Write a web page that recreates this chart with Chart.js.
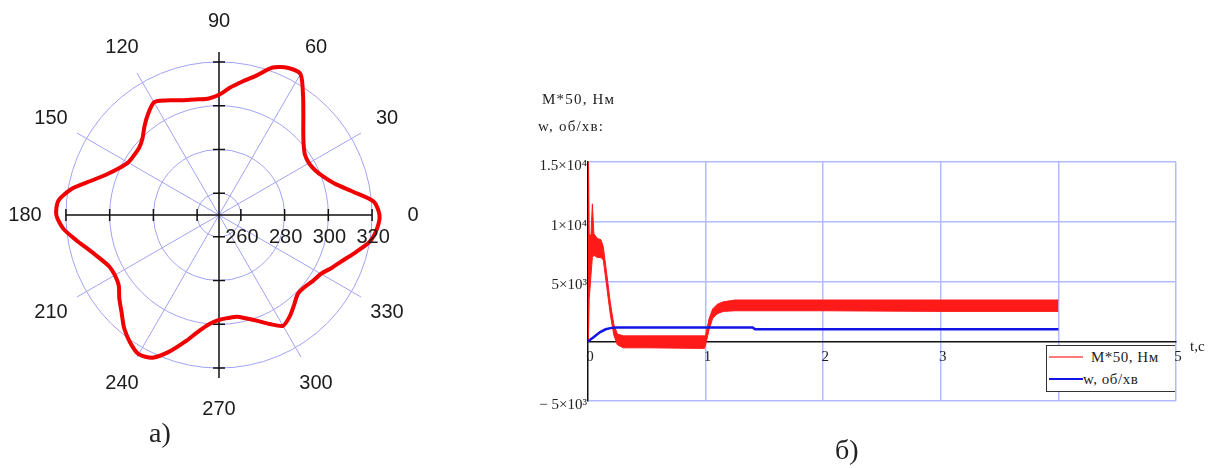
<!DOCTYPE html>
<html>
<head>
<meta charset="utf-8">
<script src="https://cdn.jsdelivr.net/npm/chart.js@4.4.1/dist/chart.umd.min.js"></script>
<style>
  body { margin: 0; background: #fff; width: 1218px; height: 468px; overflow: hidden; position: relative; font-family: "Liberation Serif", serif; }
  canvas { position: absolute; }
  .txt { position: absolute; color: #222; white-space: nowrap; line-height: 1; }
  #custom { position: absolute; left: 1046px; top: 345px; width: 128px; height: 45px; background: #fff; border-left: 1px solid #333; border-top: 1px solid #333; border-bottom: 1px solid #333; }
  #custom ul { list-style: none; margin: 0; padding: 0; }
  #custom li { display: flex; align-items: center; height: 22px; }
  #custom span { display: inline-block; width: 34px; margin: 0 0 0 2px; }
  #custom p { margin: 0; font-size: 15px; letter-spacing: 0.5px; color: #222; }
</style>
</head>
<body>
<canvas id="polar" width="440" height="430" style="left:0;top:0"></canvas>
<canvas id="time" width="698" height="380" style="left:520px;top:60px"></canvas>

<div class="txt" style="left:542px;top:92px;font-size:15px;letter-spacing:1.2px">M*50, Нм</div>
<div class="txt" style="left:538px;top:119px;font-size:15px;letter-spacing:1.2px">w, об/хв:</div>
<div class="txt" style="left:1190px;top:339px;font-size:15px">t,c</div>
<div class="txt" style="left:149px;top:419px;font-size:28px">а)</div>
<div class="txt" style="left:835px;top:436px;font-size:28px">б)</div>

<script>
// polar plot (а): radius by angle, every 5 degrees
const polarAngles = [0, 5, 10, 15, 20, 25, 30, 35, 40, 45, 50, 55, 60, 65, 70, 75, 80, 85,
  90, 95, 100, 105, 110, 115, 120, 125, 130, 135, 140, 145, 150, 155, 160, 165, 170, 175,
  180, 185, 190, 195, 200, 205, 210, 215, 220, 225, 230, 235, 240, 245, 250, 255, 260, 265,
  270, 275, 280, 285, 290, 295, 300, 305, 310, 315, 320, 325, 330, 335, 340, 345, 350, 355];
const polarRadius = [323.4, 321, 312, 305, 301, 298.5, 297.5, 298, 300.5, 304.5, 310, 317, 324.5, 324.3, 321.8, 316, 312, 308.5,
  305, 303.5, 303.7, 304.5, 305.8, 307.8, 309.5, 306.5, 303, 299.5, 297.7, 297.5, 298, 300.5, 304.5, 310.5, 318.5, 323.8,
  324.4, 321.5, 316.3, 311.5, 308, 305.5, 305, 306, 309.5, 313, 317.5, 321, 323.5, 322, 316.5, 310, 304, 300,
  298, 297.3, 297.2, 299, 301.5, 305, 308.5, 306.5, 303.5, 301, 301.2, 302.5, 303.8, 307, 310.5, 315, 320, 322.5];
const polarTicks = [260, 280, 300, 320];
const angleLabels = [0, 30, 60, 90, 120, 150, 180, 210, 240, 270, 300, 330];

// time plot (б)
const tRed = [0, 0.004, 0.01, 0.025, 0.037, 0.05, 0.08, 0.11, 0.13, 0.16, 0.19, 0.22, 0.25, 0.3, 0.5, 0.99,
  1.0, 1.03, 1.06, 1.1, 1.15, 1.25, 2, 3, 4];
const redUpper = [0, 15200, 9000, 8800, 11500, 9000, 8600, 8500, 7900, 5600, 3200, 1400, 600, 450, 450, 450,
  500, 1900, 2700, 3100, 3300, 3450, 3450, 3450, 3450];
const redLower = [0, 500, 3500, 5500, 7000, 7200, 7000, 7000, 6800, 4500, 2200, 500, -300, -550, -550, -600,
  -300, 1000, 1900, 2300, 2500, 2550, 2550, 2500, 2500];
const tBlue = [0, 0.05, 0.1, 0.15, 0.2, 0.25, 1.4, 1.42, 4];
const wBlue = [0, 350, 750, 1000, 1120, 1150, 1150, 1000, 1000];
const xTicks = [0, 1, 2, 3, 4, 5];
const yTickValues = [-5000, 0, 5000, 10000, 15000];
const yTickLabels = ["− 5×10³", "", "5×10³", "1×10⁴", "1.5×10⁴"];

const gridBlue = "#a2a2f4";
const clear = "rgba(0,0,0,0)";

// radar goes clockwise from the top, so index i sits at 90 - 5i degrees
const polarIndex = (angle) => ((90 - angle) / 5 + 72) % 72;
const radarLabels = polarAngles.map((a, i) => polarAngles[(18 - i + 72) % 72]);
const radarData = polarAngles.map((a, i) => polarRadius[(18 - i + 72) % 72]);

const polarExtras = {
  id: "polarExtras",
  beforeDatasetsDraw(chart) {
    const r = chart.scales.r;
    const ctx = chart.ctx;
    const cx = r.xCenter, cy = r.yCenter;
    const hLen = r.getDistanceFromCenterForValue(320);
    const vLen = r.getDistanceFromCenterForValue(324.5);
    ctx.save();
    ctx.strokeStyle = "#111";
    ctx.lineWidth = 1.5;
    ctx.beginPath();
    ctx.moveTo(cx - hLen, cy); ctx.lineTo(cx + hLen, cy);
    ctx.moveTo(cx, cy - vLen); ctx.lineTo(cx, cy + vLen);
    polarTicks.forEach((v) => {
      const d = r.getDistanceFromCenterForValue(v);
      ctx.moveTo(cx + d, cy - 6); ctx.lineTo(cx + d, cy + 6);
      ctx.moveTo(cx - d, cy - 6); ctx.lineTo(cx - d, cy + 6);
      ctx.moveTo(cx - 6, cy + d); ctx.lineTo(cx + 6, cy + d);
      ctx.moveTo(cx - 6, cy - d); ctx.lineTo(cx + 6, cy - d);
    });
    ctx.stroke();
    ctx.restore();
  },
  afterDraw(chart) {
    const r = chart.scales.r;
    const ctx = chart.ctx;
    ctx.save();
    ctx.fillStyle = "#1c1c1c";
    ctx.font = '20px "Liberation Sans", Arial, sans-serif';
    ctx.textAlign = "center";
    ctx.textBaseline = "middle";
    polarTicks.forEach((v) => {
      const d = r.getDistanceFromCenterForValue(v);
      ctx.fillText(String(v), r.xCenter + d + 1, r.yCenter + 22);
    });
    angleLabels.forEach((a) => {
      const p = r.getPointPosition(polarIndex(a), 194);
      ctx.fillText(String(a), p.x, p.y);
    });
    ctx.restore();
  }
};

new Chart(document.getElementById("polar"), {
  type: "radar",
  data: {
    labels: radarLabels,
    datasets: [{
      label: "r",
      data: radarData,
      borderColor: "#f00000",
      borderWidth: 4,
      pointRadius: 0,
      tension: 0.25,
      fill: false
    }]
  },
  options: {
    responsive: false,
    animation: false,
    layout: { padding: { left: 55, top: 51, right: 57, bottom: 51 } },
    plugins: { legend: { display: false }, tooltip: { enabled: false } },
    scales: {
      r: {
        min: 250,
        max: 325,
        ticks: { display: false, stepSize: 20 },
        grid: {
          circular: true,
          lineWidth: 1,
          color: (c) => polarTicks.includes(c.tick.value) ? gridBlue : clear
        },
        angleLines: {
          lineWidth: 1,
          color: (c) => {
            const a = radarLabels[c.index];
            return (a % 30 === 0 && a % 90 !== 0) ? gridBlue : clear;
          }
        },
        pointLabels: { display: false }
      }
    }
  },
  plugins: [polarExtras]
});

// time chart
const serif = '"Liberation Serif", "Times New Roman", serif';
const timeChart = new Chart(document.getElementById("time"), {
  type: "line",
  data: {
    datasets: [
      {
        label: "M*50, Нм",
        data: tRed.map((t, i) => ({ x: t, y: redUpper[i] })),
        borderColor: "#ff1a1a",
        borderWidth: 1,
        pointRadius: 0,
        fill: false,
        order: 1
      },
      {
        label: "band",
        data: tRed.map((t, i) => ({ x: t, y: redLower[i] })),
        borderColor: "#ff1a1a",
        backgroundColor: "#ff1a1a",
        borderWidth: 1,
        pointRadius: 0,
        fill: "-1",
        order: 1
      },
      {
        label: "w, об/хв",
        data: tBlue.map((t, i) => ({ x: t, y: wBlue[i] })),
        borderColor: "#1414e6",
        borderWidth: 2.5,
        pointRadius: 0,
        fill: false,
        order: 0
      }
    ]
  },
  options: {
    responsive: false,
    animation: false,
    layout: { padding: { left: 0, top: 102, right: 42, bottom: 39 } },
    plugins: { legend: { display: false }, tooltip: { enabled: false } },
    scales: {
      x: {
        type: "linear",
        min: 0,
        max: 5,
        position: { y: 0 },
        ticks: {
          stepSize: 1,
          padding: 7,
          labelOffset: 2,
          color: "#222",
          font: { family: serif, size: 15 },
          callback: (value) => xTicks.includes(value) ? String(value) : ""
        },
        grid: {
          drawTicks: false,
          lineWidth: 1.5,
          color: (c) => c.tick && c.tick.value === 0 ? clear : "#b3bbff"
        },
        border: { color: "#111", width: 1.5 }
      },
      y: {
        min: -5000,
        max: 15000,
        ticks: {
          stepSize: 5000,
          padding: 1,
          labelOffset: 4,
          color: "#222",
          font: { family: serif, size: 15 },
          callback: (value) => {
            const i = yTickValues.indexOf(value);
            return i >= 0 ? yTickLabels[i] : "";
          }
        },
        grid: {
          drawTicks: false,
          lineWidth: 1.5,
          color: (c) => c.tick && c.tick.value === 0 ? clear : "#b3bbff"
        },
        border: { color: "#111", width: 1.5 },
        afterFit: (scale) => { scale.width = 68; }
      }
    }
  }
});

// generate legend
function generateLegend() {
  const div = document.createElement("div");
  div.setAttribute("id", "custom");
  const ul = document.createElement("ul");

  timeChart.legend.legendItems
    .filter((item) => item.text !== "band")
    .sort((a, b) => a.datasetIndex - b.datasetIndex)
    .forEach((item) => {
      const li = document.createElement("li");
      const span = document.createElement("span");
      const red = item.text.startsWith("M");
      span.style.borderTop = red ? "2px solid #ff7a7a" : "2.5px solid " + item.strokeStyle;
      span.style.marginRight = red ? "8px" : "0px";
      const p = document.createElement("P");
      p.textContent = item.text;
      li.appendChild(span);
      li.appendChild(p);
      ul.appendChild(li);
    });

  div.appendChild(ul);
  document.body.appendChild(div);
}

generateLegend();
</script>
</body>
</html>
